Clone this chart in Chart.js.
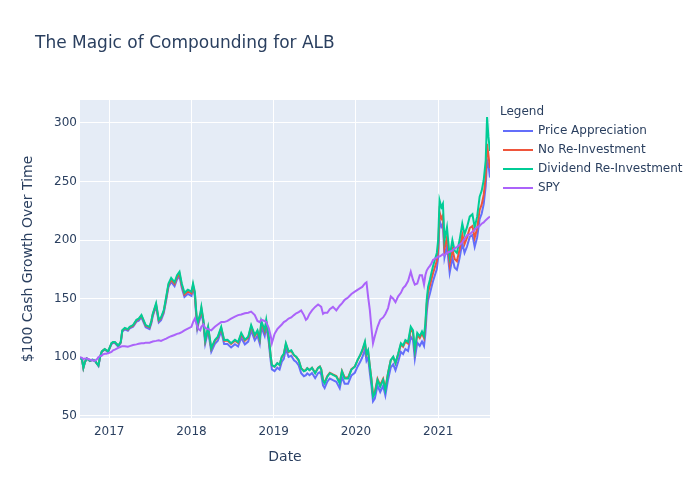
<!DOCTYPE html>
<html>
<head>
<meta charset="utf-8">
<title>The Magic of Compounding for ALB</title>
<script src="https://cdn.jsdelivr.net/npm/chart.js@4.4.0/dist/chart.umd.min.js"></script>
<style>
  html, body { margin: 0; padding: 0; background: #ffffff; }
  #contenido { width: 700px; height: 500px; }
</style>
</head>
<body>
<div id="contenido"><canvas id="diagramaCrecimiento" width="700" height="500"></canvas></div>
<script>
// fechas de cada punto
const dates = [
  '2016-08-24', '2016-09-02', '2016-09-08', '2016-09-15', '2016-09-23', '2016-10-01', '2016-10-07', '2016-10-18',
  '2016-10-30', '2016-11-06', '2016-11-14', '2016-11-21', '2016-11-29', '2016-12-05', '2016-12-12', '2016-12-20',
  '2016-12-27', '2017-01-11', '2017-01-18', '2017-01-26', '2017-02-10', '2017-02-21', '2017-02-28', '2017-03-11',
  '2017-03-25', '2017-04-02', '2017-04-17', '2017-05-02', '2017-05-12', '2017-05-24', '2017-06-04', '2017-06-12',
  '2017-06-29', '2017-07-07', '2017-07-13', '2017-07-28', '2017-08-09', '2017-08-19', '2017-08-31', '2017-09-11',
  '2017-09-21', '2017-10-03', '2017-10-18', '2017-10-29', '2017-11-09', '2017-11-19', '2017-12-01', '2017-12-16',
  '2018-01-01', '2018-01-08', '2018-01-16', '2018-01-21', '2018-01-27', '2018-02-01', '2018-02-09', '2018-02-14',
  '2018-02-23', '2018-03-03', '2018-03-16', '2018-03-30', '2018-04-15', '2018-04-28', '2018-05-13', '2018-05-26',
  '2018-06-10', '2018-06-26', '2018-07-13', '2018-07-27', '2018-08-10', '2018-08-26', '2018-09-10', '2018-09-23',
  '2018-10-09', '2018-10-21', '2018-10-31', '2018-11-07', '2018-11-22', '2018-11-29', '2018-12-10', '2018-12-19',
  '2018-12-24', '2019-01-05', '2019-01-17', '2019-01-27', '2019-02-06', '2019-02-15', '2019-02-24', '2019-03-08',
  '2019-03-20', '2019-04-01', '2019-04-11', '2019-04-22', '2019-05-03', '2019-05-15', '2019-05-24', '2019-05-30',
  '2019-06-09', '2019-06-20', '2019-07-04', '2019-07-17', '2019-07-25', '2019-07-31', '2019-08-08', '2019-08-15',
  '2019-08-27', '2019-09-07', '2019-09-21', '2019-10-06', '2019-10-21', '2019-10-31', '2019-11-12', '2019-11-27',
  '2019-12-12', '2019-12-27', '2020-01-08', '2020-01-20', '2020-01-29', '2020-02-10', '2020-02-17', '2020-02-24',
  '2020-03-03', '2020-03-10', '2020-03-17', '2020-03-25', '2020-04-06', '2020-04-18', '2020-05-01', '2020-05-11',
  '2020-05-23', '2020-06-04', '2020-06-15', '2020-06-25', '2020-07-07', '2020-07-19', '2020-07-29', '2020-08-08',
  '2020-08-20', '2020-09-01', '2020-09-11', '2020-09-19', '2020-09-30', '2020-10-11', '2020-10-21', '2020-10-30',
  '2020-11-05', '2020-11-11', '2020-11-17', '2020-11-25', '2020-12-02', '2020-12-09', '2020-12-17', '2020-12-26',
  '2021-01-01', '2021-01-07', '2021-01-15', '2021-01-22', '2021-01-29', '2021-02-09', '2021-02-21', '2021-03-05',
  '2021-03-15', '2021-03-25', '2021-04-06', '2021-04-18', '2021-04-28', '2021-05-09', '2021-05-21', '2021-06-02',
  '2021-06-12', '2021-06-23', '2021-07-04', '2021-07-13', '2021-07-22', '2021-07-31', '2021-08-06', '2021-08-12',
  '2021-08-19'
];

const priceAppreciation = [
  100, 98, 91, 95.9, 98.9, 97.8, 96.8, 97.7, 96.7, 94.7, 92.6, 99.6, 104.5, 105.5, 106.4, 105.4,
  104.4, 111.2, 112.2, 112.1, 109.1, 112, 121.9, 123.8, 122.7, 124.6, 126, 130.4, 131.3, 134.2, 129.2, 125.7,
  124.1, 129, 134.8, 143.6, 129.8, 131.7, 137.5, 148.9, 159.9, 164.4, 160.7, 166.5, 169.3, 159.4, 151.5, 154.1,
  152.3, 159.1, 152.2, 138.5, 124.3, 128.7, 133.5, 139.3, 128.5, 111.7, 122.6, 104.7, 111.5, 114.1, 122.2, 111.3,
  111.4, 108.4, 111.2, 109.2, 116.7, 111, 113.4, 122.9, 114.6, 118.4, 111.6, 126, 118.2, 126.6, 112.9, 96.5,
  89.6, 88.2, 91.1, 89.6, 96.2, 98.6, 107.2, 100.4, 101.3, 97.4, 96, 93.1, 86.4, 83.9, 84.8, 86.3,
  84.7, 86.6, 82.2, 86.5, 87.4, 85, 76, 73.8, 79.2, 81.9, 80.5, 79.1, 73.6, 83.2, 77.5, 77.4,
  84.5, 86.8, 92, 96.1, 99.8, 106.6, 96.9, 99.7, 86.5, 75.9, 62.4, 64.8, 75.8, 70.4, 75.7, 67.5,
  80.9, 91.4, 94, 88.9, 96.3, 104.6, 102.7, 107.1, 105.4, 117.5, 114.6, 98.8, 112.5, 109.8, 113.5, 109.7,
  119.9, 138.5, 148.7, 154.2, 159.7, 164.8, 169.8, 175.3, 185.4, 216.9, 211.3, 214, 185.2, 195.3, 172.1, 184.9,
  176.5, 174.6, 184.6, 197.5, 189.1, 194.5, 202.7, 204.4, 194.2, 202.4, 217.9, 222.4, 230.6, 246.1, 268, 264.3,
  253.3
];

const noReinvestment = [
  100, 98, 91, 96, 99, 98, 97, 97.9, 97, 95, 93, 100, 104.9, 105.9, 106.9, 105.9,
  104.9, 111.8, 112.8, 112.8, 109.8, 112.8, 122.7, 124.7, 123.6, 125.6, 127, 131.5, 132.5, 135.4, 130.4, 127,
  125.5, 130.4, 136.2, 145.1, 131.3, 133.3, 139.1, 150.6, 161.6, 166.2, 162.5, 168.4, 171.2, 161.4, 153.5, 156.2,
  154.5, 161.3, 154.4, 140.8, 126.6, 131, 135.8, 141.7, 130.9, 114.1, 125.1, 107.3, 114.1, 116.8, 125, 114.1,
  114.3, 111.4, 114.2, 112.3, 119.8, 114.2, 116.7, 126.2, 118, 121.9, 115.1, 129.5, 121.8, 130.2, 116.6, 100.2,
  93.3, 92, 94.9, 93.5, 100.2, 102.6, 111.2, 104.5, 105.4, 101.6, 100.2, 97.4, 90.7, 88.3, 89.2, 90.7,
  89.2, 91.1, 86.8, 91.1, 92.1, 89.7, 80.7, 78.6, 84, 86.8, 85.4, 84.1, 78.7, 88.3, 82.7, 82.7,
  89.8, 92.1, 97.4, 101.6, 105.3, 112.2, 102.5, 105.3, 92.2, 81.6, 68.1, 70.5, 81.6, 76.2, 81.6, 73.4,
  86.9, 97.5, 100.1, 95, 102.5, 110.9, 109, 113.4, 111.8, 123.9, 121.1, 105.3, 119.1, 116.4, 120.2, 116.4,
  126.6, 145.3, 155.5, 161, 166.6, 171.7, 176.7, 182.3, 192.4, 223.9, 218.3, 221.1, 192.3, 202.5, 179.3, 192.2,
  183.8, 181.9, 192, 204.9, 196.6, 202, 210.3, 212, 201.9, 210.1, 225.7, 230.2, 238.5, 254, 282, 272.3,
  261.3
];

const dividendReinvestment = [
  100, 98, 91, 96, 99, 98, 97, 98, 97, 95, 93, 100, 105, 106, 107, 106,
  105, 112, 113, 113, 110, 113, 123, 125, 124, 126, 127.5, 132, 133, 136, 131, 127.5,
  126, 131, 137, 146, 132, 134, 140, 151.7, 163, 167.7, 164, 170, 173, 163, 155, 157.7,
  156, 163, 156, 142, 127.5, 132, 137, 143, 132, 114.8, 126, 107.7, 114.8, 117.6, 126, 114.8,
  115, 112, 115, 113, 120.8, 115, 117.6, 127.5, 119, 123, 116, 131, 123, 131.8, 117.6, 100.5,
  93.4, 92, 95, 93.5, 100.5, 103, 112, 105, 106, 102, 100.5, 97.6, 90.6, 88, 89, 90.6,
  89, 91, 86.4, 91, 92, 89.5, 80, 77.8, 83.5, 86.4, 85, 83.5, 77.8, 88, 82, 82,
  89.5, 92, 97.6, 102, 106, 113.3, 103, 106, 92, 80.7, 66.4, 69, 80.7, 75, 80.7, 72,
  86.4, 97.6, 100.5, 95, 103, 112, 110, 114.7, 113, 126, 123, 106, 120.8, 118, 122, 118,
  129, 149, 160, 166, 172, 177.6, 183, 189, 200, 234, 228, 231, 200, 211, 186, 200,
  191, 189, 200, 214, 205, 211, 220, 222, 211, 220, 237, 242, 251, 268, 305, 288,
  276
];

const spy = [
  100, 99.5, 98.5, 99, 99, 98.5, 98, 97.5, 97, 98, 100, 101, 101.5, 102.5, 103, 103,
  103.5, 104.5, 106, 106.5, 108, 109, 109.5, 109.5, 109, 109.5, 110.5, 111, 111.5, 112, 112, 112.5,
  112.5, 113, 113.5, 114, 114.5, 114, 115, 116, 117, 118, 119, 120, 120.5, 121.5, 123, 124.5,
  126, 130, 133, 130, 126, 124, 123, 126, 128, 125, 124, 123, 126, 128, 130, 130,
  131, 133, 134.7, 136, 136.5, 137.5, 138, 139, 136, 131, 130, 132, 131, 130, 125, 118,
  112, 120, 124, 126, 128, 130, 131, 133, 134, 136, 137.5, 138.5, 140, 136, 132, 133,
  137, 140, 143, 145, 144, 143, 137, 138, 138, 141, 143, 140, 144, 146, 149, 151,
  154, 156, 157.5, 159, 160, 163, 164, 152, 140, 125, 112, 118, 126, 132, 134, 137,
  142, 152, 150, 147, 152, 155, 159, 161, 165, 173, 166, 162, 163, 170, 170, 162,
  170, 174, 176, 178, 180, 183, 184, 185, 186, 186, 187, 188, 187, 189, 190, 191,
  193, 194, 196, 198, 201, 204, 205, 207, 209, 211, 212, 214, 215, 217, 218, 219,
  220
];

const seriesNames = ['Price Appreciation', 'No Re-Investment', 'Dividend Re-Investment', 'SPY'];
const seriesColors = ['#636efa', '#EF553B', '#00cc96', '#ab63fa'];
const yearTicks = [2017, 2018, 2019, 2020, 2021];
const valueTicks = [50, 100, 150, 200, 250, 300];
const chartTitle = 'The Magic of Compounding for ALB';
const legendTitle = 'Legend';

const fuente = 'DejaVu Sans';
const colorTexto = '#2a3f5f';

Chart.defaults.font.family = fuente;
Chart.defaults.color = colorTexto;

// fecha -> año decimal para el eje x lineal
function aAnio(fecha) {
  const d = new Date(fecha + 'T00:00:00Z');
  const y = d.getUTCFullYear();
  const ini = Date.UTC(y, 0, 1);
  const fin = Date.UTC(y + 1, 0, 1);
  return y + (d.getTime() - ini) / (fin - ini);
}

const xs = dates.map(aAnio);
const valores = [priceAppreciation, noReinvestment, dividendReinvestment, spy];

// fondo del area, titulo y leyenda como en plotly
const fondoYLeyenda = {
  id: 'fondoYLeyenda',
  beforeDraw(chart) {
    const a = chart.chartArea;
    const ctx = chart.ctx;
    ctx.save();
    ctx.fillStyle = '#E5ECF6';
    ctx.fillRect(a.left, a.top, a.right - a.left, a.bottom - a.top);
    ctx.restore();
  },
  afterDraw(chart) {
    const ctx = chart.ctx;
    ctx.save();
    ctx.fillStyle = colorTexto;
    ctx.textBaseline = 'middle';
    ctx.textAlign = 'left';
    ctx.font = '17px "' + fuente + '"';
    ctx.fillText(chartTitle, 35, 44);

    ctx.font = '12px "' + fuente + '"';
    ctx.fillText(legendTitle, 500, 112);
    chart.data.datasets.forEach(function (ds, i) {
      const y = 131 + i * 19;
      ctx.strokeStyle = ds.borderColor;
      ctx.lineWidth = 2;
      ctx.beginPath();
      ctx.moveTo(503, y);
      ctx.lineTo(533, y);
      ctx.stroke();
      ctx.fillStyle = colorTexto;
      ctx.fillText(ds.label, 538, y);
    });
    ctx.restore();
  }
};

let canvas = document.getElementById('diagramaCrecimiento');

let diagrama = new Chart(canvas, {
  type: 'line',
  data: {
    datasets: seriesNames.map(function (nombre, i) {
      return {
        label: nombre,
        data: valores[i].map(function (v, j) { return { x: xs[j], y: v }; }),
        borderColor: seriesColors[i],
        backgroundColor: seriesColors[i],
        borderWidth: 2,
        pointRadius: 0,
        tension: 0,
        fill: false,
        order: seriesNames.length - i
      };
    })
  },
  options: {
    responsive: false,
    animation: false,
    devicePixelRatio: 1,
    layout: { padding: { left: 20, right: 210, top: 100, bottom: 20 } },
    plugins: {
      legend: { display: false },
      title: { display: false },
      tooltip: { enabled: false }
    },
    scales: {
      x: {
        type: 'linear',
        min: xs[0],
        max: xs[xs.length - 1],
        afterBuildTicks: function (axis) {
          axis.ticks = yearTicks.map(function (v) { return { value: v }; });
        },
        afterFit: function (axis) { axis.height = 62; },
        grid: { color: '#ffffff', lineWidth: 1, drawTicks: false },
        border: { display: false },
        ticks: {
          color: colorTexto,
          font: { size: 12 },
          padding: 7,
          maxRotation: 0,
          autoSkip: false,
          callback: function (v) { return String(v); }
        },
        title: {
          display: true,
          text: 'Date',
          color: colorTexto,
          font: { size: 14 },
          padding: { top: 0, bottom: 14 }
        }
      },
      y: {
        type: 'linear',
        min: 48.2,
        max: 319.5,
        afterBuildTicks: function (axis) {
          axis.ticks = valueTicks.map(function (v) { return { value: v }; });
        },
        afterFit: function (axis) { axis.width = 60; },
        grid: { color: '#ffffff', lineWidth: 1, drawTicks: false },
        border: { display: false },
        ticks: {
          color: colorTexto,
          font: { size: 12 },
          padding: 3,
          autoSkip: false,
          callback: function (v) { return String(v); }
        },
        title: {
          display: true,
          text: '$100 Cash Growth Over Time',
          color: colorTexto,
          font: { size: 14 },
          padding: { top: 0, bottom: 0 }
        }
      }
    }
  },
  plugins: [fondoYLeyenda]
});
</script>
</body>
</html>
